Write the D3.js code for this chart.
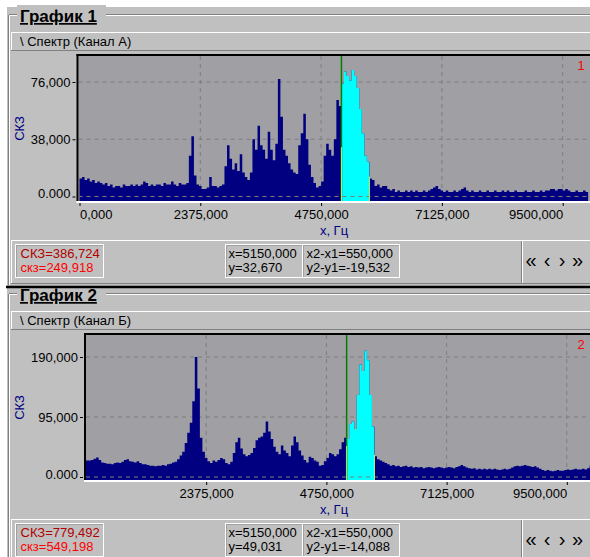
<!DOCTYPE html>
<html>
<head>
<meta charset="utf-8">
<script src="https://cdn.jsdelivr.net/npm/d3@7"></script>
<style>
  body { margin: 0; background: #ffffff; }
  text { font-family: "Liberation Sans", Arial, sans-serif; }
</style>
</head>
<body>
<div id="container"></div>
<script>

// spectrum bins, 50 Hz wide, 0..9950 Hz
let binHz = 50;

let spectrumA = [
  12,13,11,12,10,11,9,10,9,8,
  9,7,8,6,7,7,6,8,7,7,
  8,7,8,7,8,10,9,7,8,7,
  8,8,7,9,8,8,10,8,7,9,
  8,8,9,27,40,14,8,7,5,5,
  6,13,7,7,6,7,8,20,34,25,
  18,22,17,28,16,13,11,16,38,31,
  47,34,31,25,43,31,24,35,78,53,
  31,27,22,18,16,15,34,42,55,38,
  21,13,9,6,7,10,27,35,31,27,
  38,64,60,75,83,80,77,84,80,72,
  58,42,27,23,12,11,7,8,6,7,
  7,5,4,5,3,4,3,3,4,3,
  4,3,4,3,3,4,3,4,5,6,
  7,5,4,3,4,3,3,4,3,4,
  5,6,4,3,4,3,3,4,3,3,
  4,3,3,4,3,3,4,3,4,3,
  3,4,3,3,3,4,3,3,4,3,
  3,4,3,4,4,5,5,4,5,5,
  4,5,4,3,3,4,3,3,4,3
];

let spectrumB = [
  26,26,27,29,31,27,23,22,21,21,
  20,22,23,22,24,27,28,25,24,23,
  25,22,20,20,19,18,18,17,18,18,
  19,18,20,21,23,24,28,34,40,54,
  70,86,120,190,140,62,40,30,25,22,
  26,24,27,30,28,22,20,24,38,55,
  62,45,36,33,35,38,46,58,62,64,
  70,88,72,60,48,40,36,50,42,38,
  33,50,64,55,42,34,27,23,32,30,
  26,24,18,19,25,30,38,36,33,36,
  44,55,62,60,84,88,76,130,178,168,
  200,185,130,80,33,28,26,24,22,20,
  18,19,17,18,16,17,18,16,17,15,
  16,15,16,14,15,16,15,14,15,16,
  15,14,15,16,15,14,16,17,19,17,
  15,14,13,14,12,13,12,13,12,13,
  12,13,12,11,12,13,12,13,15,17,
  18,17,18,19,18,17,16,17,15,13,
  11,10,11,10,9,10,11,10,10,11,
  12,11,12,13,12,12,13,12,14,18
];

let xTicksA = [0, 2375, 4750, 7125, 9500];
let xTickLabelsA = ["0,000", "2375,000", "4750,000", "7125,000", "9500,000"];
let xTicksB = [2375, 4750, 7125, 9500];
let xTickLabelsB = ["2375,000", "4750,000", "7125,000", "9500,000"];

let yTicksA = [0, 38, 76];
let yTickLabelsA = ["0.000", "38,000", "76,000"];
let yTicksB = [0, 95, 190];
let yTickLabelsB = ["0.000", "95,000", "190,000"];

let cursorX1 = 5150;
let cursorX2 = 5700;
let cursorYA = 32.670;
let cursorDyA = -19.532;
let cursorYB = 49.031;
let cursorDyB = -14.088;

let titles = ["График 1", "График 2"];
let channels = ["\\ Спектр (Канал А)", "\\ Спектр (Канал Б)"];
let statsA = ["СКЗ=386,724", "скз=249,918"];
let statsB = ["СКЗ=779,492", "скз=549,198"];
let cursorTextA = ["x=5150,000", "y=32,670", "x2-x1=550,000", "y2-y1=-19,532"];
let cursorTextB = ["x=5150,000", "y=49,031", "x2-x1=550,000", "y2-y1=-14,088"];
let navGlyphs = ["«", "‹", "›", "»"];


let w = 590;
let h = 557;
let viz = d3.select("#container")
  .append("svg")
    .attr("width", w)
    .attr("height", h)
;

viz.append("rect").attr("x", 0).attr("y", 0).attr("width", w).attr("height", h).attr("fill", "#ffffff");
viz.append("rect").attr("x", 7).attr("y", 7).attr("width", w - 7).attr("height", h - 7).attr("fill", "#c0c0c0");

function hline(g, x1, x2, y, col, sw){
  g.append("line").attr("x1", x1).attr("x2", x2).attr("y1", y).attr("y2", y)
    .attr("stroke", col).attr("stroke-width", sw || 1);
}
function vline(g, x, y1, y2, col, sw){
  g.append("line").attr("x1", x).attr("x2", x).attr("y1", y1).attr("y2", y2)
    .attr("stroke", col).attr("stroke-width", sw || 1);
}

function drawPanel(o){
  let g = viz.append("g").attr("transform", "translate(0," + o.dy + ")");

  // group box frame
  hline(g, 9, w, 14.5, "#808080");
  hline(g, 10, w, 15.5, "#ffffff");
  vline(g, 8.5, 15, o.frameBottom, "#808080");
  vline(g, 9.5, 15, o.frameBottom, "#ffffff");
  g.append("rect").attr("x", 17).attr("y", 5).attr("width", 89).attr("height", 18).attr("fill", "#c0c0c0");
  g.append("text")
    .text(o.title)
    .attr("x", 20)
    .attr("y", 22)
    .attr("font-size", "17px")
    .attr("font-weight", "bold")
    .attr("text-decoration", "underline")
    .attr("fill", "#000000")
  ;

  // channel header bar
  g.append("rect").attr("x", 11).attr("y", 32).attr("width", w - 11).attr("height", 18).attr("fill", "#c0c0c0");
  hline(g, 11, w, 32.5, "#ffffff");
  vline(g, 11.5, 32, 50, "#ffffff");
  hline(g, 11, w, 50.5, "#808080");
  g.append("text")
    .text(o.channel)
    .attr("x", 20)
    .attr("y", 45.5)
    .attr("font-size", "13px")
    .attr("fill", "#000000")
  ;

  // plot area
  let plotTop = 56;
  let plotBottom = 201;
  g.append("rect")
    .attr("x", o.left)
    .attr("y", plotTop)
    .attr("width", w - o.left)
    .attr("height", plotBottom - plotTop)
    .attr("fill", "#a0a0a4")
  ;

  let xScale = d3.scaleLinear().domain([0, 10000]).range([o.x0, o.x0 + o.px2375 * 10000 / 2375]);
  let yScale = d3.scaleLinear().domain([0, o.yTicks[o.yTicks.length - 1]]).range([o.yZero, o.yTop]);

  // grid
  let gridgroup = g.append("g").attr("class", "grid");
  o.xTicks.filter(function(d){ return d > 0 }).forEach(function(d){
    gridgroup.append("line")
      .attr("x1", xScale(d)).attr("x2", xScale(d))
      .attr("y1", plotTop).attr("y2", plotBottom)
      .attr("stroke", "#7c7c80").attr("stroke-dasharray", "4,4")
    ;
  });
  o.yTicks.filter(function(d){ return d > 0 }).forEach(function(d){
    gridgroup.append("line")
      .attr("x1", o.left).attr("x2", w)
      .attr("y1", yScale(d)).attr("y2", yScale(d))
      .attr("stroke", "#7c7c80").attr("stroke-dasharray", "4,4")
    ;
  });

  // spectrum
  let pts = o.values.map(function(v, i){ return {f: i * binHz, v: v} });
  pts.push({f: 10000, v: o.values[o.values.length - 1]});

  let area = d3.area()
    .x(function(d){ return xScale(d.f) })
    .y0(plotBottom)
    .y1(function(d){ return yScale(d.v) })
    .curve(d3.curveStepAfter)
  ;

  let clipPlot = "clipplot" + o.num;
  g.append("clipPath").attr("id", clipPlot)
    .append("rect").attr("x", o.left).attr("y", plotTop).attr("width", w - o.left).attr("height", plotBottom - plotTop);
  let clipCur = "clipcur" + o.num;
  g.append("clipPath").attr("id", clipCur)
    .append("rect").attr("x", xScale(cursorX1)).attr("y", plotTop)
      .attr("width", xScale(cursorX2) - xScale(cursorX1)).attr("height", plotBottom - plotTop);

  g.append("path")
    .datum(pts)
    .attr("d", area)
    .attr("fill", "#000080")
    .attr("clip-path", "url(#" + clipPlot + ")")
  ;
  g.append("path")
    .datum(pts)
    .attr("d", area)
    .attr("fill", "#00ffff")
    .attr("clip-path", "url(#" + clipCur + ")")
  ;

  // zero line over the data
  g.append("line")
    .attr("x1", o.left).attr("x2", w)
    .attr("y1", yScale(0)).attr("y2", yScale(0))
    .attr("stroke", "#7c7c80").attr("stroke-dasharray", "4,4")
  ;

  // cursors
  vline(g, xScale(cursorX1), plotTop, plotBottom, "#008000", 1.5);
  vline(g, xScale(cursorX1), yScale(o.cursorY), plotBottom, "#c8f060", 1);
  vline(g, xScale(cursorX2), yScale(o.cursorY + o.cursorDy), plotBottom, "#c8f060", 1);

  // sunken border
  hline(g, o.left - 2, w, plotTop - 1, "#000000", 2);
  vline(g, o.left - 1, plotTop - 2, plotBottom, "#000000", 2);
  hline(g, o.left - 2, w, plotBottom + 1, "#ffffff", 2);

  g.append("text")
    .text(o.num)
    .attr("x", 581)
    .attr("y", 70)
    .attr("text-anchor", "middle")
    .attr("font-size", "13px")
    .attr("fill", "#ff0000")
  ;

  // axes
  let yAxis = d3.axisLeft(yScale)
    .tickValues(o.yTicks)
    .tickFormat(function(d, i){ return o.yLabels[i] })
    .tickSize(3)
    .tickPadding(2)
  ;
  let yAxisGroup = g.append("g")
    .attr("class", "yaxisgroup")
    .attr("transform", "translate(" + (o.left - 3) + ",0)")
  ;
  yAxisGroup.call(yAxis);
  yAxisGroup.select(".domain").remove();
  yAxisGroup.selectAll("text")
    .attr("font-size", "13px")
    .attr("font-family", "Liberation Sans, Arial, sans-serif")
    .attr("fill", "#000000")
    .attr("dy", function(d){ return d === 0 ? "0.1em" : "0.32em" })
  ;
  yAxisGroup.selectAll("line").attr("stroke", "#000000");

  let xAxis = d3.axisBottom(xScale)
    .tickValues(o.xTicks)
    .tickFormat(function(d, i){ return o.xLabels[i] })
    .tickSize(3)
    .tickPadding(4)
  ;
  let xAxisGroup = g.append("g")
    .attr("class", "xaxisgroup")
    .attr("transform", "translate(0," + (plotBottom + 2) + ")")
  ;
  xAxisGroup.call(xAxis);
  xAxisGroup.select(".domain").remove();
  xAxisGroup.selectAll("text")
    .attr("font-size", "13px")
    .attr("font-family", "Liberation Sans, Arial, sans-serif")
    .attr("fill", "#000000")
    .attr("text-anchor", function(d){
      if(d === 0){ return "start" }
      if(d === 9500){ return "end" }
      return "middle";
    })
  ;
  xAxisGroup.selectAll("line").attr("stroke", "#000000");

  g.append("text")
    .text("x, Гц")
    .attr("x", 334)
    .attr("y", 234.5)
    .attr("text-anchor", "middle")
    .attr("font-size", "13px")
    .attr("fill", "#000080")
  ;
  g.append("text")
    .text("СКЗ")
    .attr("transform", "translate(24," + ((plotTop + plotBottom) / 2) + ") rotate(-90)")
    .attr("text-anchor", "middle")
    .attr("font-size", "13px")
    .attr("fill", "#000080")
  ;

  // status strip
  hline(g, 11, w, 240.5, "#ffffff");
  vline(g, 11.5, 240, 284, "#ffffff");
  hline(g, 11, w, 283.5, "#808080");
  vline(g, 521.5, 241, 283, "#808080");
  vline(g, 522.5, 241, 283, "#ffffff");

  let boxes = [[15, 88], [225, 77], [302, 97]];
  boxes.forEach(function(b){
    g.append("rect").attr("x", b[0] + 0.5).attr("y", 244.5).attr("width", b[1]).attr("height", 33)
      .attr("fill", "#c0c0c0").attr("stroke", "#ffffff");
    hline(g, b[0] + 1, b[0] + b[1], 245.5, "#a0a0a0");
    vline(g, b[0] + 1.5, 245, 277, "#a0a0a0");
  });

  g.append("text").text(o.stats[0]).attr("x", 20.5).attr("y", 257.5)
    .attr("font-size", "13px").attr("fill", "#b00000");
  g.append("text").text(o.stats[1]).attr("x", 20.5).attr("y", 271.5)
    .attr("font-size", "13px").attr("fill", "#ff0000");

  g.append("text").text(o.cursorText[0]).attr("x", 228.5).attr("y", 257.5).attr("font-size", "13px");
  g.append("text").text(o.cursorText[1]).attr("x", 228.5).attr("y", 271.5).attr("font-size", "13px");
  g.append("text").text(o.cursorText[2]).attr("x", 306.5).attr("y", 257.5).attr("font-size", "13px");
  g.append("text").text(o.cursorText[3]).attr("x", 306.5).attr("y", 271.5).attr("font-size", "13px");

  let navX = [531, 547, 562, 577.5];
  navGlyphs.forEach(function(t, i){
    g.append("text").text(t)
      .attr("x", navX[i]).attr("y", 267)
      .attr("text-anchor", "middle")
      .attr("font-size", "20px")
      .attr("font-family", "DejaVu Sans, sans-serif")
      .attr("fill", "#000000")
    ;
  });
}

drawPanel({
  num: 1, dy: 0, frameBottom: 285,
  title: titles[0], channel: channels[0],
  left: 78.5, x0: 79.5, px2375: 120.8,
  yZero: 196.5, yTop: 82,
  values: spectrumA,
  xTicks: xTicksA, xLabels: xTickLabelsA,
  yTicks: yTicksA, yLabels: yTickLabelsA,
  cursorY: cursorYA, cursorDy: cursorDyA,
  stats: statsA, cursorText: cursorTextA
});

drawPanel({
  num: 2, dy: 279, frameBottom: 285,
  title: titles[1], channel: channels[1],
  left: 86, x0: 86, px2375: 120.2,
  yZero: 198, yTop: 78,
  values: spectrumB,
  xTicks: xTicksB, xLabels: xTickLabelsB,
  yTicks: yTicksB, yLabels: yTickLabelsB,
  cursorY: cursorYB, cursorDy: cursorDyB,
  stats: statsB, cursorText: cursorTextB
});

// black separator between the two graphs
viz.append("line")
  .attr("x1", 6).attr("x2", w)
  .attr("y1", 287).attr("y2", 287)
  .attr("stroke", "#000000").attr("stroke-width", 2.5)
;

</script>
</body>
</html>
